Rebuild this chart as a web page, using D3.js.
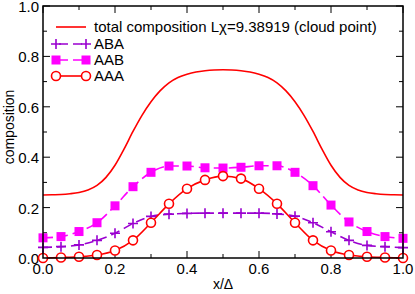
<html>
<head>
<meta charset="utf-8">
<script src="https://cdn.jsdelivr.net/npm/d3@7"></script>
<style>
body { margin: 0; background: #fff; }
text { font-family: "Liberation Sans", Arial, sans-serif; fill: #000; }
</style>
</head>
<body>
<div id="chart"></div>
<script>

// x positions of the markers
let xs = [0, 0.05, 0.1, 0.15, 0.2, 0.25, 0.3, 0.35, 0.4, 0.45, 0.5,
          0.55, 0.6, 0.65, 0.7, 0.75, 0.8, 0.85, 0.9, 0.95, 1.0];
let aba = [0.042, 0.045, 0.052, 0.07, 0.098, 0.137, 0.165, 0.174, 0.177, 0.178, 0.178,
           0.178, 0.178, 0.175, 0.166, 0.14, 0.104, 0.07, 0.05, 0.045, 0.041];
let aab = [0.08, 0.085, 0.105, 0.14, 0.207, 0.283, 0.34, 0.365, 0.365, 0.358, 0.357,
           0.36, 0.366, 0.366, 0.34, 0.287, 0.21, 0.143, 0.105, 0.085, 0.078];
let aaa = [0.0, 0.002, 0.005, 0.012, 0.03, 0.07, 0.14, 0.215, 0.275, 0.31, 0.325,
           0.315, 0.275, 0.215, 0.14, 0.07, 0.03, 0.012, 0.005, 0.002, 0.0];

// total composition, finer sampling
let xsTotal = [0, 0.025, 0.05, 0.075, 0.1, 0.125, 0.15, 0.175, 0.2, 0.225, 0.25, 0.275, 0.3, 0.325,
               0.35, 0.375, 0.4, 0.425, 0.45, 0.475, 0.5, 0.525, 0.55, 0.575, 0.6, 0.625, 0.65,
               0.675, 0.7, 0.725, 0.75, 0.775, 0.8, 0.825, 0.85, 0.875, 0.9, 0.925, 0.95, 0.975, 1.0];
let total = [0.250, 0.251, 0.252, 0.255, 0.260, 0.270, 0.288, 0.320, 0.368, 0.432, 0.502, 0.566, 0.620, 0.663,
             0.695, 0.716, 0.729, 0.738, 0.743, 0.746, 0.747, 0.746, 0.743, 0.738, 0.729, 0.716, 0.695,
             0.663, 0.620, 0.566, 0.502, 0.432, 0.368, 0.320, 0.288, 0.270, 0.260, 0.255, 0.252, 0.251, 0.250];

let xTicks = [0, 0.2, 0.4, 0.6, 0.8, 1.0];
let yTicks = [0, 0.2, 0.4, 0.6, 0.8, 1.0];
let legendLabels = ['total composition L\u03c7=9.38919 (cloud point)', 'ABA', 'AAB', 'AAA'];

let width = 415;
let height = 294;
let pLeft = 43, pRight = 403, pTop = 6, pBottom = 258;

let x = d3.scaleLinear().domain([0, 1]).range([pLeft, pRight]);
let y = d3.scaleLinear().domain([0, 1]).range([pBottom, pTop]);

let svg = d3.select('#chart')
    .append('svg')
    .attr('width', width)
    .attr('height', height);

// ticks, all four sides, pointing inward
let minor = [0.1, 0.3, 0.5, 0.7, 0.9];
let axisG = svg.append('g').attr('stroke', '#000').attr('stroke-width', 1);
xTicks.forEach(function(t) {
    axisG.append('line').attr('x1', x(t)).attr('x2', x(t)).attr('y1', pBottom).attr('y2', pBottom - 7);
    axisG.append('line').attr('x1', x(t)).attr('x2', x(t)).attr('y1', pTop).attr('y2', pTop + 7);
});
minor.forEach(function(t) {
    axisG.append('line').attr('x1', x(t)).attr('x2', x(t)).attr('y1', pBottom).attr('y2', pBottom - 4);
    axisG.append('line').attr('x1', x(t)).attr('x2', x(t)).attr('y1', pTop).attr('y2', pTop + 4);
    axisG.append('line').attr('y1', y(t)).attr('y2', y(t)).attr('x1', pLeft).attr('x2', pLeft + 4);
    axisG.append('line').attr('y1', y(t)).attr('y2', y(t)).attr('x1', pRight).attr('x2', pRight - 4);
});
yTicks.forEach(function(t) {
    axisG.append('line').attr('y1', y(t)).attr('y2', y(t)).attr('x1', pLeft).attr('x2', pLeft + 7);
    axisG.append('line').attr('y1', y(t)).attr('y2', y(t)).attr('x1', pRight).attr('x2', pRight - 7);
});

svg.selectAll('.xlab').data(xTicks).enter().append('text')
    .attr('x', d => x(d)).attr('y', pBottom + 16)
    .attr('text-anchor', 'middle').attr('font-size', 15)
    .text(d => d.toFixed(1));
svg.selectAll('.ylab').data(yTicks).enter().append('text')
    .attr('x', pLeft - 4).attr('y', d => y(d) + 6)
    .attr('text-anchor', 'end').attr('font-size', 15)
    .text(d => d.toFixed(1));

svg.append('text').attr('x', 223).attr('y', 289)
    .attr('text-anchor', 'middle').attr('font-size', 14).text('x/\u0394');
svg.append('text').attr('transform', 'translate(14,127) rotate(-90)')
    .attr('text-anchor', 'middle').attr('font-size', 14).text('composition');

let line = d3.line().x(d => x(d[0])).y(d => y(d[1])).curve(d3.curveMonotoneX);
let plot = svg.append('g');

plot.append('path').datum(d3.zip(xsTotal, total)).attr('d', line)
    .attr('fill', 'none').attr('stroke', '#ff0000').attr('stroke-width', 1.6);

let abaColor = '#9a00d0', aabColor = '#ff00ff', aaaColor = '#ff0000';

plot.append('path').datum(d3.zip(xs, aba)).attr('d', line)
    .attr('fill', 'none').attr('stroke', abaColor).attr('stroke-width', 1.6)
    .attr('stroke-dasharray', '9,5');
plot.append('path').datum(d3.zip(xs, aab)).attr('d', line)
    .attr('fill', 'none').attr('stroke', aabColor).attr('stroke-width', 1.6)
    .attr('stroke-dasharray', '10,5');
plot.append('path').datum(d3.zip(xs, aaa)).attr('d', line)
    .attr('fill', 'none').attr('stroke', aaaColor).attr('stroke-width', 1.6);

function plus(g, cx, cy) {
    g.append('path').attr('d', 'M' + (cx - 5) + ',' + cy + 'H' + (cx + 5) + 'M' + cx + ',' + (cy - 5) + 'V' + (cy + 5))
        .attr('stroke', abaColor).attr('stroke-width', 1.6).attr('fill', 'none');
}
function square(g, cx, cy) {
    g.append('rect').attr('x', cx - 4.5).attr('y', cy - 4.5).attr('width', 9).attr('height', 9)
        .attr('fill', aabColor);
}
function circle(g, cx, cy) {
    g.append('circle').attr('cx', cx).attr('cy', cy).attr('r', 4.5)
        .attr('fill', '#fff').attr('stroke', aaaColor).attr('stroke-width', 1.6);
}

xs.forEach(function(v, i) { plus(plot, x(v), y(aba[i])); });
xs.forEach(function(v, i) { square(plot, x(v), y(aab[i])); });
xs.forEach(function(v, i) { circle(plot, x(v), y(aaa[i])); });

// frame
svg.append('rect').attr('x', pLeft).attr('y', pTop).attr('width', pRight - pLeft).attr('height', pBottom - pTop)
    .attr('fill', 'none').attr('stroke', '#000').attr('stroke-width', 1.5);

// legend
let lg = svg.append('g');
let ly = [27, 44, 60, 76];
let lx1 = 56, lx2 = 86;
lg.append('line').attr('x1', lx1).attr('x2', lx2).attr('y1', ly[0]).attr('y2', ly[0])
    .attr('stroke', '#ff0000').attr('stroke-width', 1.6);
lg.append('line').attr('x1', lx1).attr('x2', lx2).attr('y1', ly[1]).attr('y2', ly[1])
    .attr('stroke', abaColor).attr('stroke-width', 1.6).attr('stroke-dasharray', '9,5').attr('stroke-dashoffset', -3);
plus(lg, lx1, ly[1]); plus(lg, lx2, ly[1]);
lg.append('line').attr('x1', lx1).attr('x2', lx2).attr('y1', ly[2]).attr('y2', ly[2])
    .attr('stroke', aabColor).attr('stroke-width', 1.6).attr('stroke-dasharray', '9,5').attr('stroke-dashoffset', -3);
square(lg, lx1, ly[2]); square(lg, lx2, ly[2]);
lg.append('line').attr('x1', lx1).attr('x2', lx2).attr('y1', ly[3]).attr('y2', ly[3])
    .attr('stroke', aaaColor).attr('stroke-width', 1.6);
circle(lg, lx1, ly[3]); circle(lg, lx2, ly[3]);

lg.selectAll('text').data(legendLabels).enter().append('text')
    .attr('x', 94).attr('y', (d, i) => ly[i] + 5)
    .attr('font-size', 15).text(d => d);

</script>
</body>
</html>
